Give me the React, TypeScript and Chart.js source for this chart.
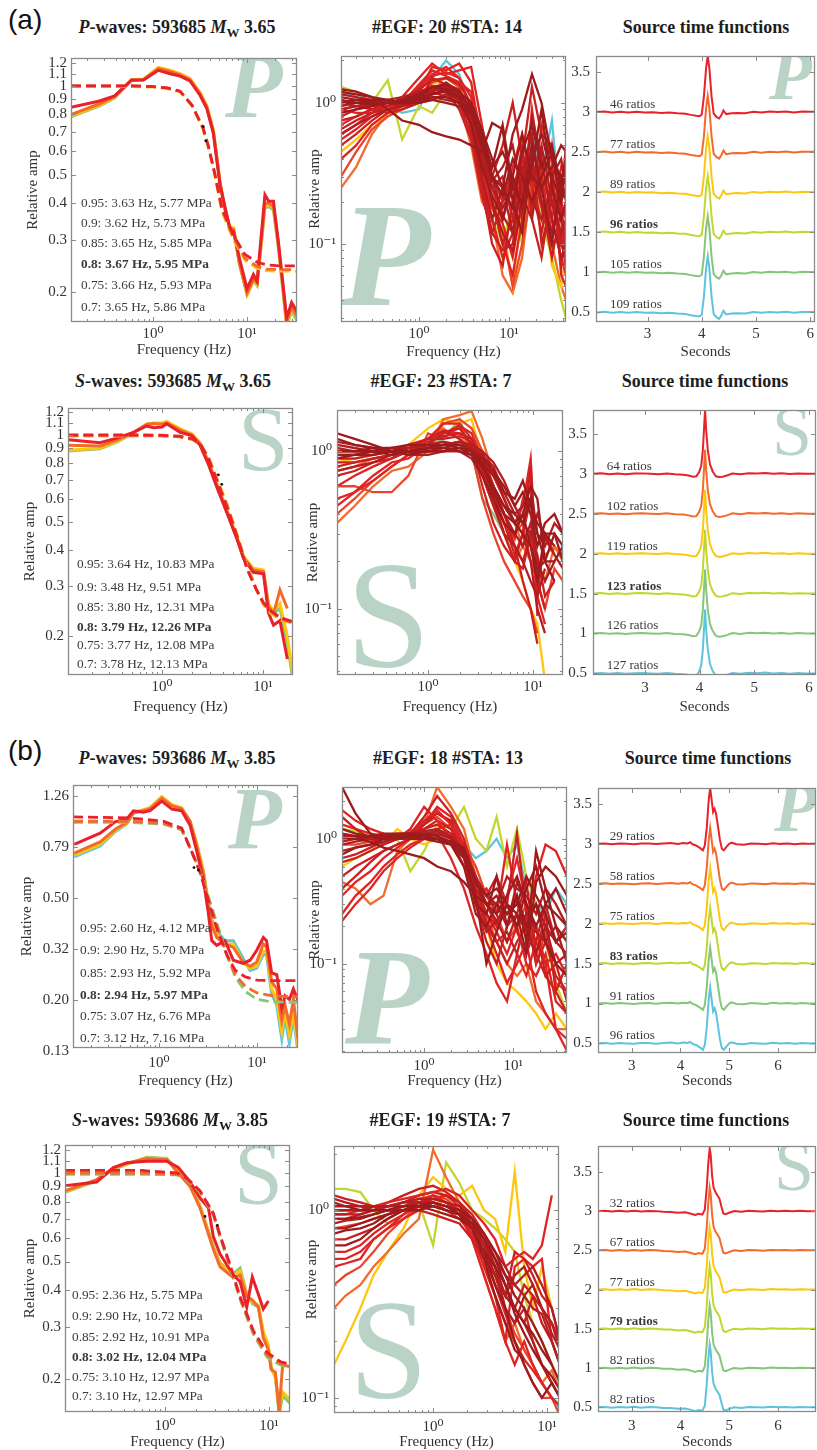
import React, { useEffect, useRef } from 'react';
import { Chart, registerables } from 'chart.js';
Chart.register(...registerables);

const SERIF = '"Liberation Serif", "DejaVu Serif", "Times New Roman", serif';
const SANS = '"Liberation Sans", Arial, sans-serif';
Chart.defaults.font.family = SERIF;
const INK = '#333333';
const BOX = '#8a8a8a';
const WATER = '#b9d4c7';
const PADT = 3;

const C = {
  cyan: '#5ec4dd', green: '#86c67a', ygreen: '#c3d62f', yellow: '#fcc70e', orange: '#f36b2c', red: '#e8212b',
  r1: '#9e1b1d', r2: '#b41e20', r3: '#cb2022', r4: '#df2424', r5: '#e9452a',
};

// ---------- tick labels ----------
const logXTicks = [1, 10];
const logXLabels = ['10⁰', '10¹'];
const logMinor = [0.02, 0.03, 0.04, 0.05, 0.06, 0.07, 0.08, 0.09, 0.2, 0.3, 0.4, 0.5, 0.6, 0.7, 0.8, 0.9, 2, 3, 4, 5, 6, 7, 8, 9, 20, 30, 40];
const ampTicks = [0.2, 0.3, 0.4, 0.5, 0.6, 0.7, 0.8, 0.9, 1, 1.1, 1.2];
const ampLabels = ['0.2', '0.3', '0.4', '0.5', '0.6', '0.7', '0.8', '0.9', '1', '1.1', '1.2'];
const ampTicksB = [0.1259, 0.1995, 0.3162, 0.5012, 0.7943, 1.2589];
const ampLabelsB = ['0.13', '0.20', '0.32', '0.50', '0.79', '1.26'];
const egfYTicks = [0.1, 1];
const egfYLabels = ['10⁻¹', '10⁰'];
const stfYTicks = [0.5, 1, 1.5, 2, 2.5, 3, 3.5];
const stfYLabels = ['0.5', '1', '1.5', '2', '2.5', '3', '3.5'];
const secTicks = [3, 4, 5, 6];
const secLabels = ['3', '4', '5', '6'];

// ---------- (a) P-wave spectral ratio fit ----------
const pA_freq = [0.134, 0.27, 0.39, 0.59, 0.79, 1.14, 1.52, 1.94, 2.47, 3.16, 3.72, 4.38, 5.16, 5.83, 6.6, 7.2, 8.3, 10.0, 11.7, 12.8, 15.5, 17.0, 19.1, 21.6, 26.4, 29.8, 34];
const pA_green = [0.785, 0.855, 0.91, 1.045, 1.05, 1.15, 1.125, 1.095, 1.055, 0.945, 0.855, 0.705, 0.468, 0.378, 0.328, 0.328, 0.248, 0.197, 0.218, 0.21, 0.385, 0.39, 0.38, 0.28, 0.153, 0.172, 0.16];
const pA_yellow = [0.79, 0.86, 0.915, 1.05, 1.055, 1.155, 1.13, 1.10, 1.06, 0.95, 0.86, 0.71, 0.47, 0.38, 0.33, 0.33, 0.25, 0.195, 0.218, 0.212, 0.39, 0.395, 0.385, 0.285, 0.155, 0.175, 0.163];
const pA_orange = [0.80, 0.87, 0.92, 1.05, 1.05, 1.145, 1.12, 1.09, 1.05, 0.94, 0.85, 0.70, 0.47, 0.385, 0.33, 0.325, 0.25, 0.198, 0.22, 0.215, 0.40, 0.40, 0.39, 0.29, 0.158, 0.178, 0.165];
const pA_red = [0.847, 0.889, 0.925, 1.046, 1.048, 1.13, 1.10, 1.08, 1.04, 0.93, 0.84, 0.69, 0.46, 0.387, 0.324, 0.32, 0.26, 0.205, 0.229, 0.217, 0.427, 0.406, 0.406, 0.293, 0.163, 0.184, 0.171];
const pA_dfreq = [0.134, 0.6, 1.0, 1.4, 1.94, 2.6, 3.4, 3.9, 4.5, 5.4, 7.2, 9.5, 12.8, 16, 22, 34];
const pA_dYellow = [0.995, 0.995, 0.99, 0.98, 0.955, 0.855, 0.715, 0.615, 0.505, 0.375, 0.3, 0.256, 0.24, 0.236, 0.235, 0.235];
const pA_dOrange = [1.0, 1.0, 0.995, 0.985, 0.96, 0.86, 0.72, 0.62, 0.51, 0.38, 0.305, 0.26, 0.244, 0.239, 0.238, 0.238];
const pA_dRed = [1.0, 1.0, 0.995, 0.985, 0.96, 0.86, 0.72, 0.62, 0.51, 0.385, 0.31, 0.268, 0.252, 0.247, 0.245, 0.245];
const pA_dots = [{ x: 3.43, y: 0.727 }, { x: 3.63, y: 0.651 }];
const pA_notes = ['0.95: 3.63 Hz, 5.77 MPa', '0.9: 3.62 Hz, 5.73 MPa', '0.85: 3.65 Hz, 5.85 MPa', '0.8: 3.67 Hz, 5.95 MPa', '0.75: 3.66 Hz, 5.93 MPa', '0.7: 3.65 Hz, 5.86 MPa'];

// ---------- (a) S-wave spectral ratio fit ----------
const sA_freq = [0.118, 0.243, 0.356, 0.52, 0.706, 0.82, 1.0, 1.11, 1.51, 1.97, 2.38, 2.88, 3.48, 4.38, 5.5, 6.39, 8.0, 10.1, 11.3, 12.7, 14.7, 17.4, 19.8];
const sA_green = [0.88, 0.895, 0.945, 1.015, 1.085, 1.095, 1.095, 1.11, 1.045, 1.005, 0.935, 0.805, 0.675, 0.545, 0.44, 0.375, 0.34, 0.335, 0.255, 0.24, 0.25, 0.19, 0.14];
const sA_yellow = [0.885, 0.9, 0.95, 1.02, 1.09, 1.10, 1.10, 1.115, 1.05, 1.01, 0.94, 0.81, 0.68, 0.55, 0.445, 0.38, 0.345, 0.34, 0.26, 0.245, 0.26, 0.2, 0.146];
const sA_orange = [0.92, 0.915, 0.96, 1.02, 1.09, 1.095, 1.09, 1.10, 1.04, 1.0, 0.93, 0.8, 0.67, 0.545, 0.44, 0.375, 0.34, 0.335, 0.255, 0.24, 0.29, 0.25, null];
const sA_red = [0.962, 0.94, 0.975, 1.02, 1.074, 1.06, 1.065, 1.094, 1.02, 0.995, 0.92, 0.79, 0.66, 0.537, 0.437, 0.375, 0.334, 0.33, 0.242, 0.219, 0.227, 0.167, null];
const sA_dfreq = [0.118, 0.6, 1.0, 1.5, 2.0, 2.4, 2.9, 3.5, 4.4, 5.5, 7.0, 8.6, 10.1, 12, 15, 19.8];
const sA_dYellow = [0.99, 0.99, 0.99, 0.985, 0.965, 0.93, 0.835, 0.705, 0.575, 0.455, 0.35, 0.29, 0.258, 0.24, 0.228, 0.222];
const sA_dOrange = [0.995, 0.995, 0.993, 0.985, 0.965, 0.925, 0.83, 0.70, 0.57, 0.45, 0.345, 0.292, 0.26, 0.243, 0.23, 0.223];
const sA_dRed = [1.0, 1.0, 0.998, 0.99, 0.97, 0.93, 0.82, 0.69, 0.56, 0.445, 0.34, 0.29, 0.262, 0.245, 0.232, 0.225];
const sA_dots = [{ x: 3.61, y: 0.727 }, { x: 3.9, y: 0.674 }];
const sA_notes = ['0.95: 3.64 Hz, 10.83 MPa', '0.9: 3.48 Hz, 9.51 MPa', '0.85: 3.80 Hz, 12.31 MPa', '0.8: 3.79 Hz, 12.26 MPa', '0.75: 3.77 Hz, 12.08 MPa', '0.7: 3.78 Hz, 12.13 MPa'];

// ---------- (b) P-wave spectral ratio fit ----------
const pB_freq = [0.136, 0.25, 0.356, 0.468, 0.547, 0.69, 0.81, 1.065, 1.35, 1.70, 2.07, 2.42, 2.83, 3.17, 3.45, 3.88, 4.71, 5.73, 7.2, 8.5, 9.9, 11.6, 12.5, 14.1, 15.9, 17.9, 19.3, 21.4, 23.5, 26.2];
const pB_green = [0.725, 0.80, 0.91, 0.975, 1.075, 1.105, 1.125, 1.245, 1.155, 1.125, 0.995, 0.815, 0.635, 0.485, 0.41, 0.37, 0.34, 0.34, 0.29, 0.26, 0.265, 0.30, 0.30, 0.21, 0.19, 0.14, 0.17, 0.135, 0.17, 0.125];
const pB_yellow = [0.735, 0.81, 0.92, 0.98, 1.08, 1.11, 1.13, 1.25, 1.16, 1.13, 1.0, 0.82, 0.64, 0.48, 0.40, 0.36, 0.33, 0.33, 0.28, 0.265, 0.27, 0.31, 0.31, 0.22, 0.2, 0.15, 0.18, 0.145, 0.18, 0.13];
const pB_orange = [0.75, 0.83, 0.93, 0.99, 1.08, 1.1, 1.12, 1.23, 1.15, 1.12, 1.0, 0.8, 0.62, 0.47, 0.39, 0.35, 0.33, 0.32, 0.28, 0.27, 0.28, 0.33, 0.32, 0.235, 0.22, 0.165, 0.19, 0.16, 0.2, 0.14];
const pB_red = [0.811, 0.898, 0.994, 1.02, 1.099, 1.085, 1.10, 1.199, 1.116, 1.099, 0.965, 0.765, 0.589, 0.441, 0.34, 0.326, 0.34, 0.285, 0.277, 0.285, 0.311, 0.35, 0.34, 0.254, 0.25, 0.185, 0.207, 0.20, 0.22, 0.198];
const pB_dfreq = [0.132, 0.5, 1.1, 1.7, 2.15, 2.62, 3.17, 3.88, 4.9, 6.0, 7.6, 10, 14, 20, 26.2];
const pB_dYellow = [0.99, 0.99, 0.975, 0.925, 0.76, 0.64, 0.51, 0.40, 0.30, 0.245, 0.215, 0.2, 0.196, 0.195, 0.195];
const pB_dOrange = [1.0, 1.0, 0.98, 0.93, 0.76, 0.635, 0.5, 0.39, 0.3, 0.25, 0.225, 0.212, 0.207, 0.205, 0.205];
const pB_dRed = [1.04, 1.03, 1.0, 0.94, 0.76, 0.63, 0.49, 0.38, 0.30, 0.26, 0.245, 0.238, 0.237, 0.237, 0.237];
const pB_dots = [{ x: 2.27, y: 0.658 }, { x: 2.52, y: 0.643 }];
const pB_notes = ['0.95: 2.60 Hz, 4.12 MPa', '0.9: 2.90 Hz, 5.70 MPa', '0.85: 2.93 Hz, 5.92 MPa', '0.8: 2.94 Hz, 5.97 MPa', '0.75: 3.07 Hz, 6.76 MPa', '0.7: 3.12 Hz, 7.16 MPa'];

// ---------- (b) S-wave spectral ratio fit ----------
const sB_freq = [0.109, 0.22, 0.318, 0.43, 0.667, 1.04, 1.34, 1.74, 2.17, 2.61, 2.91, 3.38, 4.54, 5.26, 6.1, 6.9, 7.9, 8.8, 9.85, 10.5, 11.5, 12.5, 13.5, 15.9];
const sB_green = [0.86, 0.94, 1.03, 1.07, 1.13, 1.12, 1.015, 0.915, 0.775, 0.635, 0.565, 0.495, 0.455, 0.475, 0.39, 0.36, 0.35, 0.285, 0.255, 0.215, 0.205, 0.15, 0.175, 0.165];
const sB_yellow = [0.865, 0.945, 1.035, 1.075, 1.125, 1.115, 1.01, 0.91, 0.77, 0.63, 0.56, 0.49, 0.45, 0.465, 0.385, 0.365, 0.355, 0.29, 0.26, 0.22, 0.2, 0.16, 0.18, 0.17];
const sB_orange = [0.87, 0.95, 1.04, 1.08, 1.12, 1.11, 1.0, 0.9, 0.76, 0.62, 0.55, 0.48, 0.44, 0.45, 0.38, 0.37, 0.35, 0.275, 0.25, 0.215, 0.21, 0.155, 0.222, 0.22];
const sB_red = [0.905, 0.932, 1.044, 1.084, 1.097, 1.097, 1.044, 0.932, 0.822, 0.762, 0.608, 0.53, 0.45, 0.427, 0.35, 0.443, 0.386, 0.345, 0.367, null, null, null, null, null];
const sB_dfreq = [0.109, 0.6, 1.3, 1.62, 2.17, 2.91, 3.38, 4.2, 5.26, 7.1, 9.6, 13, 15.9];
const sB_dYellow = [0.99, 0.99, 0.985, 0.95, 0.86, 0.72, 0.605, 0.48, 0.372, 0.282, 0.236, 0.222, 0.219];
const sB_dOrange = [1.0, 1.0, 0.99, 0.955, 0.865, 0.725, 0.61, 0.485, 0.376, 0.286, 0.24, 0.225, 0.222];
const sB_dRed = [1.02, 1.02, 1.0, 0.96, 0.87, 0.73, 0.615, 0.49, 0.38, 0.29, 0.245, 0.228, 0.224];
const sB_dots = [{ x: 2.42, y: 0.712 }, { x: 3.18, y: 0.664 }];
const sB_notes = ['0.95: 2.36 Hz, 5.75 MPa', '0.9: 2.90 Hz, 10.72 MPa', '0.85: 2.92 Hz, 10.91 MPa', '0.8: 3.02 Hz, 12.04 MPa', '0.75: 3.10 Hz, 12.97 MPa', '0.7: 3.10 Hz, 12.97 MPa'];

// ---------- individual EGF spectral ratios ----------
const egfPA_freq = [0.136, 0.2, 0.3, 0.45, 0.65, 1.0, 1.4, 2.0, 2.8, 3.8, 5.0, 6.5, 8.5, 11, 14, 18, 23, 30, 38, 43];
const egfPA_lines = [
  [1.2, 1.1, 1.0, 0.95, 0.85, 0.9, 1.5, 2.0, 1.6, 0.9, 0.4, 0.3, 0.15, 0.3, 0.2, 0.6, 0.3, 0.75, 0.15, 0.1],
  [1.3, 1.2, 1.0, 1.45, 0.55, 0.95, 0.85, 1.2, 1.0, 0.6, 0.3, 0.15, 0.1, 0.2, 0.1, 0.3, 0.15, 0.08, 0.04, 0.03],
  [0.25, 0.35, 0.6, 0.85, 1.0, 1.05, 1.5, 1.3, 1.0, 0.5, 0.2, 0.15, 0.06, 0.045, 0.08, 0.3, 0.2, 0.1, 0.05, 0.04],
  [0.45, 0.55, 0.7, 0.8, 0.95, 1.1, 1.35, 1.5, 1.3, 0.8, 0.35, 0.2, 0.14, 0.05, 0.18, 0.22, 0.35, 0.07, 0.05, 0.09],
  [0.3, 0.45, 0.65, 0.8, 0.9, 1.0, 1.4, 1.5, 1.3, 0.75, 0.3, 0.18, 0.12, 0.05, 0.1, 0.25, 0.15, 0.5, 0.15, 0.06],
  [0.4, 0.5, 0.7, 0.85, 0.95, 1.2, 1.8, 1.7, 1.9, 1.4, 0.5, 0.2, 0.1, 0.06, 0.15, 0.9, 0.3, 0.12, 0.2, 0.15],
  [0.6, 0.7, 0.85, 0.95, 1.0, 1.3, 1.6, 1.8, 1.5, 0.9, 0.3, 0.15, 0.08, 0.12, 0.35, 0.2, 0.7, 0.4, 0.06, 0.05],
  [0.5, 0.6, 0.75, 0.9, 1.0, 1.15, 1.3, 1.35, 1.1, 0.7, 0.4, 0.25, 0.3, 0.15, 0.45, 0.25, 0.12, 0.3, 0.07, 0.12],
  [0.7, 0.8, 0.9, 0.95, 1.1, 1.5, 1.9, 1.6, 1.7, 1.8, 0.7, 0.3, 0.2, 0.35, 0.6, 0.25, 0.4, 0.15, 0.35, 0.3],
  [0.55, 0.65, 0.8, 0.9, 1.0, 1.2, 1.55, 1.65, 1.5, 1.1, 0.35, 0.18, 0.14, 0.08, 0.2, 0.5, 0.25, 0.15, 0.08, 0.06],
  [0.9, 0.85, 0.85, 0.9, 1.0, 1.35, 1.7, 1.55, 1.4, 1.2, 0.6, 0.25, 0.15, 0.25, 0.4, 0.18, 0.3, 0.2, 0.1, 0.12],
  [0.65, 0.75, 0.85, 0.95, 1.05, 1.25, 1.45, 1.5, 1.35, 1.0, 0.45, 0.2, 0.1, 0.15, 0.25, 0.35, 0.18, 0.1, 0.12, 0.07],
  [0.9, 0.95, 0.95, 1.0, 1.0, 1.1, 1.2, 1.3, 1.15, 0.8, 0.45, 0.3, 0.5, 1.0, 0.4, 1.3, 0.6, 0.5, 0.15, 0.1],
  [1.0, 0.95, 0.9, 0.85, 0.9, 1.0, 1.5, 1.35, 1.25, 0.65, 0.28, 0.12, 0.09, 0.1, 0.28, 0.45, 0.1, 0.2, 0.1, 0.08],
  [0.8, 0.9, 0.95, 1.0, 1.05, 1.1, 1.2, 1.1, 1.0, 0.6, 0.25, 0.1, 0.07, 0.2, 0.5, 0.15, 0.08, 0.25, 0.1, 0.08],
  [0.75, 0.8, 0.9, 1.0, 1.05, 1.1, 1.3, 1.2, 0.9, 0.55, 0.22, 0.12, 0.2, 0.3, 0.15, 0.4, 0.2, 0.08, 0.18, 0.1],
  [1.0, 1.0, 1.02, 1.0, 0.98, 1.05, 1.2, 1.4, 1.2, 0.8, 0.4, 0.2, 0.12, 0.09, 0.2, 0.8, 0.4, 0.15, 0.08, 0.1],
  [0.9, 0.95, 1.0, 1.05, 1.1, 1.2, 1.3, 1.2, 1.05, 0.8, 0.5, 0.3, 0.16, 0.12, 0.3, 0.6, 0.2, 0.12, 0.25, 0.4],
  [0.95, 1.0, 1.0, 1.0, 1.05, 1.1, 1.25, 1.3, 1.15, 0.85, 0.45, 0.25, 0.18, 0.25, 0.35, 0.28, 0.5, 0.2, 0.12, 0.15],
  [1.15, 1.1, 1.05, 1.0, 0.95, 1.0, 1.05, 1.15, 1.05, 0.75, 0.4, 0.28, 0.35, 0.5, 0.22, 0.15, 0.45, 0.3, 0.4, 0.25],
  [0.6, 0.7, 0.8, 0.9, 0.95, 1.05, 1.1, 1.05, 1.0, 0.7, 0.3, 0.15, 0.25, 0.12, 0.3, 0.2, 0.15, 0.25, 0.15, 0.18],
  [1.1, 1.05, 1.0, 1.0, 1.0, 1.0, 1.1, 1.1, 1.0, 0.9, 0.6, 0.35, 0.7, 0.25, 0.2, 0.35, 0.9, 0.25, 0.15, 0.2],
  [1.05, 1.0, 0.98, 1.0, 1.02, 1.08, 1.15, 1.2, 1.1, 0.95, 0.55, 0.3, 0.22, 0.4, 0.3, 0.2, 0.3, 0.45, 0.2, 0.25],
  [0.85, 0.9, 0.95, 1.0, 1.0, 1.05, 1.15, 1.25, 1.2, 1.0, 0.65, 0.4, 0.25, 0.18, 0.45, 0.7, 0.35, 0.5, 0.25, 0.3],
  [1.0, 1.0, 1.0, 1.0, 1.05, 1.15, 1.3, 1.35, 1.2, 0.9, 0.5, 0.3, 0.25, 0.6, 0.9, 1.6, 1.0, 0.4, 0.3, 0.2],
  [1.0, 1.05, 1.05, 1.05, 1.0, 1.0, 1.05, 1.0, 0.95, 0.85, 0.5, 0.35, 0.45, 0.3, 0.6, 0.3, 0.25, 0.35, 0.5, 0.45],
  [1.2, 1.15, 1.1, 1.05, 1.0, 1.1, 1.3, 1.25, 1.1, 0.7, 0.35, 0.22, 0.15, 0.3, 0.18, 0.5, 0.25, 0.1, 0.3, 0.35],
  [1.25, 1.2, 1.1, 0.9, 0.75, 0.7, 0.62, 0.58, 0.55, 0.5, 0.45, 0.72, 0.65, 0.2, 0.12, 0.4, 0.6, 0.3, 0.2, 0.5],
];
const egfPA_colors = [C.cyan, C.ygreen, C.orange, C.yellow, C.r5, C.r4, C.r4, C.r3, C.r4, C.r4, C.r4, C.r3, C.r3, C.r3, C.r3, C.r3, C.r2, C.r2, C.r2, C.r2, C.r2, C.r1, C.r1, C.r1, C.r1, C.r1, C.r1, C.r1];

const egfSA_freq = [0.136, 0.2, 0.3, 0.45, 0.65, 1.0, 1.4, 2.0, 2.6, 3.3, 4.2, 5.3, 6.7, 8.0, 9.5, 11, 13, 16, 19.3];
const egfSA_lines = [
  [0.9, 0.9, 0.95, 1.0, 1.0, 1.1, 1.2, 1.6, 1.0, 0.5, 0.4, 0.3, null, null, null, null, null, null, null],
  [0.85, 0.9, 0.95, 1.0, 1.1, 1.4, 1.6, 1.5, 1.6, 0.9, 0.5, 0.3, 0.2, 0.15, 0.1, 0.08, 0.035, null, null],
  [0.35, 0.45, 0.6, 0.75, 0.8, 1.0, 1.6, 1.7, 1.8, 1.2, 0.7, 0.5, 0.35, 0.25, 0.2, 0.18, 0.22, 0.25, 0.2],
  [0.6, 0.6, 0.55, 0.55, 0.7, 1.3, 1.2, 1.5, 1.0, 0.5, 0.3, 0.2, 0.15, 0.12, 0.1, 0.07, null, null, null],
  [0.75, 0.8, 0.9, 0.95, 1.0, 1.2, 1.4, 1.2, 1.1, 0.7, 0.45, 0.3, 0.2, 0.25, 0.3, 0.2, 0.15, 0.25, 0.22],
  [0.4, 0.5, 0.65, 0.8, 0.95, 1.1, 1.5, 1.6, 1.4, 1.0, 0.6, 0.4, 0.3, 0.35, 0.2, 0.15, 0.1, 0.18, 0.15],
  [0.6, 0.7, 0.8, 0.9, 1.05, 1.2, 1.5, 1.5, 1.2, 0.8, 0.55, 0.4, 0.28, 0.5, 0.7, 0.09, null, null, null],
  [0.5, 0.55, 0.7, 0.85, 0.9, 1.1, 1.35, 1.3, 1.2, 0.95, 0.7, 0.5, 0.35, 0.45, 0.9, 0.15, null, null, null],
  [0.45, 0.55, 0.65, 0.8, 0.95, 1.1, 1.3, 1.45, 1.3, 0.9, 0.55, 0.35, 0.25, 0.2, 0.3, 0.12, 0.08, null, null],
  [0.8, 0.85, 0.9, 0.95, 1.0, 1.1, 1.3, 1.4, 1.1, 0.6, 0.35, 0.25, 0.2, 0.3, 0.8, 0.12, 0.3, 0.22, null],
  [0.9, 0.9, 0.95, 1.0, 1.1, 1.2, 1.2, 1.25, 1.15, 0.9, 0.6, 0.4, 0.25, 0.15, 0.1, 0.06, null, null, null],
  [0.7, 0.75, 0.85, 0.9, 1.0, 1.15, 1.25, 1.3, 1.2, 0.85, 0.5, 0.35, 0.22, 0.3, 0.5, 0.15, 0.1, null, null],
  [0.85, 0.85, 0.9, 0.95, 1.05, 1.2, 1.35, 1.2, 1.0, 0.75, 0.5, 0.3, 0.2, 0.18, 0.3, 0.22, 0.12, 0.15, null],
  [1.1, 1.05, 1.0, 1.0, 0.95, 0.95, 1.0, 1.0, 0.9, 0.7, 0.45, 0.3, 0.25, 0.2, 0.15, 0.12, 0.18, null, null],
  [0.95, 0.95, 1.0, 1.05, 1.05, 1.1, 1.15, 1.1, 1.05, 0.95, 0.75, 0.5, 0.35, 0.3, 0.2, 0.1, 0.07, null, null],
  [1.05, 1.0, 1.0, 1.0, 1.0, 1.05, 1.1, 1.15, 1.05, 0.85, 0.6, 0.4, 0.3, 0.25, 0.35, 0.2, 0.15, 0.2, null],
  [1.15, 1.1, 1.05, 1.0, 1.0, 1.0, 1.05, 1.1, 1.05, 0.95, 0.8, 0.55, 0.4, 0.45, 0.6, 0.3, 0.25, 0.35, 0.3],
  [0.75, 0.8, 0.85, 0.95, 1.0, 1.05, 1.1, 1.15, 1.1, 1.0, 0.85, 0.65, 0.45, 0.35, 0.3, 0.4, 0.28, 0.22, 0.18],
  [1.0, 1.0, 1.0, 0.95, 1.0, 1.0, 1.05, 1.0, 0.95, 0.7, 0.5, 0.35, 0.3, 0.4, 0.25, 0.15, 0.3, 0.25, null],
  [0.9, 0.95, 1.0, 1.05, 1.0, 1.0, 1.0, 1.05, 1.0, 0.9, 0.75, 0.6, 0.45, 0.55, 0.4, 0.25, 0.35, 0.4, 0.3],
  [1.0, 1.0, 1.05, 1.05, 1.1, 1.1, 1.1, 1.05, 0.95, 0.8, 0.55, 0.4, 0.35, 0.3, 0.25, 0.18, 0.2, 0.3, 0.25],
  [0.95, 0.95, 0.95, 1.0, 1.0, 1.05, 1.05, 1.0, 0.95, 0.8, 0.6, 0.45, 0.35, 0.4, 0.6, 0.5, 0.2, 0.15, null],
  [1.2, 1.1, 1.05, 1.0, 1.0, 1.05, 1.1, 1.1, 1.0, 0.8, 0.6, 0.45, 0.4, 0.35, 0.5, 0.3, 0.2, 0.2, 0.25],
  [1.3, 1.2, 1.1, 1.0, 0.95, 1.0, 1.0, 1.05, 1.0, 0.85, 0.7, 0.55, 0.5, 0.65, 0.45, 0.35, 0.3, 0.3, 0.2],
];
const egfSA_colors = [C.green, C.yellow, C.orange, C.r5, C.orange, C.r5, C.r4, C.r4, C.r4, C.r3, C.r3, C.r3, C.r3, C.r2, C.r2, C.r2, C.r2, C.r2, C.r1, C.r1, C.r1, C.r1, C.r1, C.r1];

const egfPB_freq = [0.12, 0.17, 0.25, 0.35, 0.5, 0.7, 1.0, 1.4, 2.0, 2.8, 3.8, 5.0, 6.5, 8.5, 11, 14, 18, 23, 30, 40];
const egfPB_lines = [
  [1.1, 1.05, 1.0, 1.0, 1.05, 1.0, 1.1, 1.2, 1.0, 0.9, 0.7, 0.8, 1.0, 0.7, 0.9, 0.4, 0.3, 0.25, 0.4, 0.3],
  [1.2, 1.15, 1.1, 1.05, 1.0, 0.55, 0.8, 1.3, 1.2, 1.8, 1.0, 0.8, 1.5, 0.6, 1.2, 0.5, 0.3, 0.15, 0.07, 0.04],
  [0.6, 0.7, 0.8, 0.9, 1.2, 1.0, 0.9, 1.0, 0.9, 0.6, 0.3, 0.2, 0.1, 0.07, 0.06, 0.05, 0.04, 0.03, 0.04, 0.03],
  [0.45, 0.4, 0.3, 0.35, 0.8, 1.0, 1.3, 2.6, 1.8, 1.2, 0.5, 0.25, 0.15, 0.1, 0.08, 0.1, 0.05, 0.04, 0.03, 0.03],
  [0.9, 0.9, 0.95, 1.0, 1.0, 1.15, 1.3, 1.5, 1.2, 0.9, 0.6, 0.35, 0.25, 0.15, 0.2, 0.3, 0.1, 0.18, 0.07, 0.06],
  [0.25, 0.35, 0.45, 0.6, 0.75, 0.9, 1.0, 1.2, 1.3, 0.8, 0.35, 0.2, 0.12, 0.07, 0.1, 0.15, 0.06, 0.04, 0.03, 0.025],
  [0.22, 0.3, 0.4, 0.55, 0.7, 0.85, 1.0, 1.1, 0.7, 0.4, 0.2, 0.12, 0.07, 0.05, 0.12, 0.08, 0.15, 0.1, 0.03, 0.02],
  [0.35, 0.45, 0.55, 0.7, 0.85, 1.0, 1.3, 1.8, 1.5, 0.9, 0.4, 0.25, 0.18, 0.12, 0.2, 0.1, 0.08, 0.12, 0.05, 0.04],
  [0.4, 0.5, 0.65, 0.8, 0.9, 1.0, 1.4, 1.6, 1.4, 0.7, 0.3, 0.15, 0.1, 0.2, 0.25, 0.45, 0.12, 0.25, 0.06, 0.1],
  [0.5, 0.6, 0.7, 0.8, 0.9, 1.0, 1.2, 1.4, 1.2, 0.75, 0.35, 0.2, 0.15, 0.1, 0.15, 0.2, 0.12, 0.08, 0.06, 0.04],
  [0.7, 0.75, 0.85, 0.95, 1.0, 1.1, 1.2, 1.3, 1.1, 0.8, 0.4, 0.25, 0.2, 0.3, 0.18, 0.12, 0.2, 0.08, 0.1, 0.05],
  [0.65, 0.7, 0.8, 0.9, 1.0, 1.1, 1.3, 1.6, 1.35, 0.85, 0.4, 0.22, 0.15, 0.18, 0.12, 0.25, 0.1, 0.15, 0.08, 0.06],
  [1.7, 1.4, 1.2, 1.1, 1.0, 1.2, 1.8, 1.4, 1.0, 0.6, 0.35, 0.4, 0.25, 0.9, 0.3, 0.2, 0.5, 0.9, 0.8, 0.5],
  [1.3, 1.2, 1.1, 1.05, 1.0, 1.1, 1.4, 1.7, 1.3, 0.85, 0.5, 0.3, 0.2, 0.35, 0.7, 0.3, 0.2, 0.1, 0.12, 0.08],
  [1.5, 1.2, 1.0, 0.9, 1.0, 1.1, 1.5, 2.2, 1.6, 1.0, 0.45, 0.35, 0.5, 0.3, 1.1, 0.25, 0.15, 0.3, 0.15, 0.2],
  [0.95, 1.0, 1.0, 1.05, 1.1, 1.1, 1.15, 1.2, 1.05, 0.8, 0.45, 0.3, 0.22, 0.3, 0.2, 0.25, 0.3, 0.2, 0.15, 0.12],
  [0.8, 0.85, 0.9, 0.95, 1.0, 1.05, 1.1, 1.15, 1.0, 0.8, 0.5, 0.35, 0.3, 0.2, 0.45, 0.3, 0.18, 0.15, 0.2, 0.1],
  [0.9, 0.95, 1.0, 1.0, 1.0, 1.0, 1.05, 1.1, 1.0, 0.75, 0.3, 0.18, 0.22, 0.15, 0.25, 0.18, 0.12, 0.2, 0.1, 0.12],
  [1.05, 1.05, 1.0, 1.0, 1.05, 1.05, 1.0, 1.0, 0.95, 0.75, 0.4, 0.3, 0.3, 0.5, 0.4, 0.35, 0.25, 0.4, 0.3, 0.2],
  [1.1, 1.05, 1.05, 1.05, 1.05, 1.05, 1.0, 1.0, 0.9, 0.7, 0.35, 0.3, 0.25, 0.35, 0.5, 0.3, 0.2, 0.3, 0.25, 0.2],
  [1.2, 1.1, 1.05, 1.0, 1.0, 1.05, 1.05, 1.0, 0.95, 0.85, 0.45, 0.3, 0.35, 0.25, 0.3, 0.5, 0.35, 0.25, 0.15, 0.18],
  [0.75, 0.85, 0.9, 1.0, 1.05, 1.1, 1.1, 1.05, 0.95, 0.75, 0.45, 0.35, 0.4, 0.3, 0.2, 0.4, 0.6, 0.3, 0.4, 0.25],
  [1.0, 1.0, 1.05, 1.1, 1.1, 1.1, 1.05, 1.0, 0.95, 0.8, 0.3, 0.25, 0.5, 0.2, 0.35, 0.15, 0.8, 0.4, 0.2, 0.15],
  [2.6, 1.6, 1.1, 1.0, 1.05, 1.0, 1.0, 0.95, 0.9, 0.6, 0.25, 0.2, 0.3, 0.25, 0.35, 0.2, 0.3, 0.15, 0.1, 0.08],
  [1.0, 1.0, 0.95, 0.85, 0.8, 0.75, 0.7, 0.6, 0.55, 0.45, 0.35, 0.1, 0.18, 0.3, 0.25, 0.12, 0.45, 0.6, 0.5, 0.35],
];
const egfPB_colors = [C.cyan, C.ygreen, C.yellow, C.orange, C.r5, C.r4, C.r4, C.r4, C.r3, C.r3, C.r3, C.r3, C.r4, C.r4, C.r3, C.r2, C.r2, C.r2, C.r2, C.r1, C.r1, C.r1, C.r1, C.r1, C.r1];

const egfSB_freq = [0.135, 0.17, 0.23, 0.3, 0.4, 0.55, 0.75, 1.0, 1.3, 1.7, 2.2, 2.8, 3.5, 4.3, 5.2, 6.3, 7.5, 9.0, 11, 13];
const egfSB_lines = [
  [1.3, 1.3, 1.25, 1.0, 0.85, 0.95, 1.1, 0.65, 1.8, 1.4, 1.0, 0.9, 0.8, 0.7, 0.6, 0.35, 0.25, 0.2, 0.15, 0.12],
  [0.15, 0.2, 0.3, 0.45, 0.6, 0.8, 1.2, 1.5, 1.3, 1.2, 1.35, 1.0, 0.9, 0.6, 1.6, 0.5, 0.3, 0.5, 0.3, null],
  [0.3, 0.35, 0.4, 0.5, 0.6, 0.75, 0.9, 2.1, 1.5, 1.1, 0.7, 0.45, 0.3, 0.2, 0.25, 0.18, 0.15, 0.12, 0.14, 0.11],
  [0.4, 0.45, 0.5, 0.6, 0.75, 0.9, 1.05, 1.2, 1.15, 1.0, 0.75, 0.5, 0.35, 0.25, 0.2, 0.15, 0.12, 0.1, 0.1, 0.09],
  [0.8, 0.82, 0.85, 0.9, 0.95, 1.05, 1.15, 1.2, 1.1, 1.0, 0.8, 0.55, 0.4, 0.3, 0.22, 0.18, 0.15, 0.12, 0.1, 0.08],
  [0.5, 0.52, 0.55, 0.7, 0.8, 0.9, 1.0, 1.1, 1.0, 0.9, 0.75, 0.5, 0.35, 0.2, 0.15, 0.2, 0.15, 0.12, 0.1, 0.09],
  [0.55, 0.55, 0.6, 0.7, 0.8, 0.95, 1.05, 1.15, 1.2, 1.05, 0.85, 0.6, 0.4, 0.28, 0.2, 0.16, 0.14, 0.12, 0.1, 0.09],
  [0.6, 0.6, 0.65, 0.75, 0.85, 0.95, 1.1, 1.2, 1.1, 0.95, 0.7, 0.45, 0.3, 0.2, 0.5, 0.55, 0.5, 0.55, 0.2, 0.15],
  [0.9, 0.9, 0.95, 1.0, 1.1, 1.2, 1.3, 1.35, 1.25, 1.1, 0.9, 0.7, 0.5, 0.35, 0.6, 0.55, 0.45, 0.35, 0.3, 0.2],
  [0.7, 0.7, 0.75, 0.8, 0.9, 1.0, 1.1, 1.15, 1.1, 1.0, 0.8, 0.6, 0.45, 0.3, 0.25, 0.3, 0.2, 0.15, 0.12, 0.1],
  [1.0, 1.0, 1.0, 1.0, 1.05, 1.1, 1.2, 1.25, 1.2, 1.1, 0.95, 0.75, 0.55, 0.4, 0.3, 0.4, 0.35, 0.25, 0.2, 0.15],
  [0.95, 0.95, 1.0, 1.05, 1.1, 1.15, 1.2, 1.25, 1.3, 1.2, 1.0, 0.85, 0.7, 0.5, 0.55, 0.6, 0.55, 0.65, 1.2, null],
  [1.2, 1.15, 1.1, 1.05, 1.0, 1.0, 1.0, 0.95, 0.9, 0.85, 0.7, 0.55, 0.45, 0.35, 0.3, 0.25, 0.35, 0.3, 0.25, 0.2],
  [0.95, 0.95, 0.95, 1.0, 1.05, 1.1, 1.15, 1.15, 1.1, 1.05, 0.9, 0.7, 0.5, 0.35, 0.3, 0.25, 0.2, 0.15, 0.12, 0.1],
  [1.05, 1.05, 1.05, 1.05, 1.05, 1.05, 1.1, 1.05, 1.0, 0.95, 0.85, 0.75, 0.6, 0.5, 0.4, 0.45, 0.5, 0.4, 0.3, 0.2],
  [1.15, 1.1, 1.05, 1.0, 1.0, 1.0, 1.05, 1.1, 1.05, 1.0, 0.85, 0.65, 0.45, 0.35, 0.45, 0.5, 0.4, 0.3, 0.22, 0.18],
  [0.85, 0.88, 0.9, 0.95, 1.0, 1.05, 1.1, 1.1, 1.05, 1.0, 0.85, 0.65, 0.5, 0.3, 0.25, 0.35, 0.4, 0.3, 0.25, 0.18],
  [1.0, 1.0, 1.0, 1.05, 1.05, 1.1, 1.1, 1.05, 1.0, 0.95, 0.85, 0.7, 0.55, 0.45, 0.4, 0.35, 0.3, 0.28, 0.2, 0.15],
  [0.9, 0.9, 0.92, 0.95, 1.0, 1.05, 1.05, 1.1, 1.05, 1.0, 0.9, 0.75, 0.6, 0.45, 0.35, 0.3, 0.25, 0.2, 0.15, 0.12],
  [0.8, 0.8, 0.85, 0.9, 0.95, 1.0, 1.05, 1.05, 1.0, 0.95, 0.85, 0.7, 0.55, 0.4, 0.28, 0.22, 0.18, 0.15, 0.13, 0.11],
  [0.65, 0.65, 0.7, 0.8, 0.9, 1.0, 1.05, 1.1, 1.05, 0.95, 0.8, 0.6, 0.5, 0.4, 0.3, 0.25, 0.22, 0.18, 0.15, null],
  [0.75, 0.78, 0.8, 0.85, 0.95, 1.0, 1.0, 1.05, 1.0, 0.95, 0.8, 0.55, 0.35, 0.25, 0.18, 0.16, null, null, null, null],
  [1.1, 1.05, 1.0, 1.0, 1.0, 1.0, 1.05, 1.0, 0.95, 0.9, 0.8, 0.6, 0.4, 0.3, 0.2, 0.15, 0.12, 0.1, 0.12, 0.1],
];
const egfSB_colors = [C.ygreen, C.yellow, C.orange, C.r5, C.r5, C.r4, C.r4, C.r4, C.r3, C.r3, C.r3, C.r4, C.r3, C.r2, C.r2, C.r2, C.r2, C.r2, C.r1, C.r1, C.r1, C.r1, C.r1];

// ---------- source time functions ----------
const stfOffsets = [3, 2.5, 2, 1.5, 1, 0.5];
const stfColors = [C.red, C.orange, C.yellow, C.ygreen, C.green, C.cyan];
const stfPA_t = [2.05, 2.2, 2.35, 2.5, 2.65, 2.8, 2.95, 3.1, 3.25, 3.4, 3.55, 3.7, 3.8, 3.9, 3.96, 4.0, 4.04, 4.08, 4.11, 4.14, 4.18, 4.22, 4.27, 4.32, 4.36, 4.4, 4.45, 4.55, 4.65, 4.8, 4.95, 5.1, 5.25, 5.4, 5.55, 5.7, 5.85, 6.0, 6.09];
const stfPA_v = [0, 0.008, -0.004, 0.005, -0.006, 0.004, -0.005, -0.002, -0.012, -0.006, -0.015, -0.02, -0.035, -0.045, -0.05, -0.03, 0.2, 0.55, 0.70, 0.55, 0.2, -0.02, -0.06, -0.08, -0.04, 0.02, -0.025, -0.015, -0.01, -0.015, 0.004, -0.006, 0.006, 0.0, 0.008, -0.004, 0.006, 0.004, 0.005];
const stfPA_counts = ['46', '77', '89', '96', '105', '109'];
const stfSA_t = [2.05, 2.2, 2.35, 2.5, 2.65, 2.8, 2.95, 3.1, 3.25, 3.4, 3.55, 3.7, 3.8, 3.88, 3.94, 3.99, 4.03, 4.06, 4.08, 4.1, 4.12, 4.15, 4.19, 4.24, 4.3, 4.36, 4.42, 4.5, 4.6, 4.75, 4.9, 5.05, 5.2, 5.35, 5.5, 5.65, 5.8, 5.95, 6.13];
const stfSA_v = [0, 0.006, -0.004, 0.004, -0.005, 0.003, 0.006, 0.0, -0.004, 0.005, -0.005, -0.01, -0.02, -0.035, -0.03, 0.02, 0.1, 0.3, 0.55, 0.80, 0.55, 0.3, 0.12, 0.03, -0.03, -0.04, -0.035, -0.02, 0.005, -0.005, 0.008, 0.003, 0.01, 0.0, 0.006, -0.003, 0.005, 0.0, 0.0];
const stfSA_counts = ['64', '102', '119', '123', '126', '127'];
const stfPB_t = [2.31, 2.45, 2.6, 2.75, 2.9, 3.05, 3.2, 3.35, 3.5, 3.65, 3.8, 3.95, 4.05, 4.15, 4.2, 4.25, 4.32, 4.4, 4.46, 4.5, 4.54, 4.58, 4.61, 4.64, 4.67, 4.7, 4.73, 4.77, 4.81, 4.85, 4.89, 4.94, 5.0, 5.05, 5.15, 5.3, 5.45, 5.6, 5.75, 5.9, 6.05, 6.2, 6.35, 6.5, 6.65, 6.78];
const stfPB_v = [0, 0.006, -0.004, 0.005, 0.0, -0.005, 0.004, 0.006, -0.003, 0.005, 0.01, 0.0, 0.01, 0.005, 0.02, -0.005, -0.02, -0.05, -0.08, -0.02, 0.2, 0.55, 0.70, 0.55, 0.4, 0.44, 0.38, 0.22, 0.05, -0.06, -0.08, -0.04, 0.0, 0.015, -0.005, -0.01, 0.005, 0.0, -0.005, 0.008, 0.0, 0.005, -0.004, 0.006, 0.0, 0.0];
const stfPB_counts = ['29', '58', '75', '83', '91', '96'];
const stfSB_t = [2.31, 2.45, 2.6, 2.75, 2.9, 3.05, 3.2, 3.35, 3.5, 3.65, 3.8, 3.95, 4.1, 4.2, 4.3, 4.38, 4.45, 4.5, 4.54, 4.57, 4.6, 4.62, 4.65, 4.68, 4.72, 4.76, 4.8, 4.84, 4.88, 4.93, 5.0, 5.1, 5.25, 5.4, 5.55, 5.7, 5.85, 6.0, 6.15, 6.3, 6.45, 6.6, 6.78];
const stfSB_v = [0, 0.005, -0.005, 0.004, -0.004, 0.006, -0.006, 0.003, 0.0, -0.008, -0.01, -0.02, -0.015, -0.03, -0.05, -0.035, -0.045, 0.02, 0.3, 0.6, 0.80, 0.72, 0.45, 0.3, 0.24, 0.2, 0.16, 0.06, -0.03, -0.04, -0.02, 0.0, -0.008, 0.005, 0.0, -0.004, 0.006, 0.0, 0.004, -0.002, 0.005, 0.0, 0.0];
const stfSB_counts = ['32', '67', '77', '79', '82', '82'];

// ---------- dataset builders ----------
const xy = (xs: number[], ys: (number | null)[]) => xs.map((x, i) => ({ x, y: ys[i] }));
const stack = (sets: any[]) => sets.map((s, i) => ({ ...s, order: sets.length - i }));

function spectrum(freq: number[], solids: [any[], string][], dfreq: number[], dashed: [any[], string][], dots: any[]) {
  const s: any[] = [];
  solids.forEach(([v, c]) => s.push({ data: xy(freq, v), borderColor: c, borderWidth: 3, pointRadius: 0, clip: 0, spanGaps: false }));
  dashed.forEach(([v, c]) => s.push({ data: xy(dfreq, v), borderColor: c, borderWidth: 2.8, borderDash: [10, 5], pointRadius: 0, clip: 0 }));
  s.push({ data: dots, showLine: false, pointRadius: 1.4, pointBackgroundColor: '#111', pointBorderWidth: 0, clip: 0 });
  return stack(s);
}
function egf(freq: number[], lines: any[][], colors: string[]) {
  return stack(lines.map((v, i) => ({ data: xy(freq, v), borderColor: colors[i], borderWidth: 2.3, pointRadius: 0, clip: 0, spanGaps: false })));
}
function stf(t: number[], shape: number[]) {
  return stack(stfOffsets.map((o, i) => ({ data: t.map((x, j) => ({ x, y: o + shape[j] })), borderColor: stfColors[i], borderWidth: 2, pointRadius: 0, clip: 0 })));
}

// ---------- panels ----------
type Panel = any;
const LOGX = { v: logXTicks, l: logXLabels, minor: logMinor };
const SECX = { v: secTicks, l: secLabels, minor: [] };
const AMPY = { v: ampTicks, l: ampLabels, minor: [] };
const EGFY = { v: egfYTicks, l: egfYLabels, minor: logMinor };
const STFY = { v: stfYTicks, l: stfYLabels, minor: [] };

const PANELS: Panel[] = [
  { id: 'p1', plot: [71, 48, 297, 322], padL: 47, padB: 37, padR: 3, xPad: 3, yPad: 4, xType: 'logarithmic', yType: 'logarithmic', xMin: 0.134, xMax: 34, yMin: 0.158, yMax: 1.244, xT: LOGX, yT: AMPY, xTitle: 'Frequency (Hz)', yTitle: 'Relative amp',
    letter: { ch: 'P', italic: true, size: 94, x: 225, y: 117 },
    datasets: spectrum(pA_freq, [[pA_green, C.green], [pA_yellow, C.yellow], [pA_orange, C.orange], [pA_red, C.red]], pA_dfreq, [[pA_dYellow, C.yellow], [pA_dOrange, C.orange], [pA_dRed, C.red]], pA_dots) },
  { id: 'p2', plot: [341, 45, 566, 322], padL: 35, padB: 39, padR: 3, xPad: 3, yPad: 5, xType: 'logarithmic', yType: 'logarithmic', xMin: 0.136, xMax: 43, yMin: 0.028, yMax: 2.15, xT: LOGX, yT: EGFY, xTitle: 'Frequency (Hz)', yTitle: 'Relative amp',
    letter: { ch: 'P', italic: true, size: 148, x: 340, y: 305 },
    datasets: egf(egfPA_freq, egfPA_lines, egfPA_colors) },
  { id: 'p3', plot: [596, 44, 816, 322], padL: 30, padB: 39, padR: 1, xPad: 3, yPad: 6, xType: 'linear', yType: 'linear', xMin: 2.05, xMax: 6.09, yMin: 0.38, yMax: 3.7, xT: SECX, yT: STFY, xTitle: 'Seconds',
    letter: { ch: 'P', italic: true, size: 70, x: 769, y: 99 },
    stf: { t: 2.31, counts: stfPA_counts, bold: 3 },
    datasets: stf(stfPA_t, stfPA_v) },
  { id: 'p4', plot: [68, 398, 293, 675], padL: 47, padB: 41, padR: 3, xPad: 3, yPad: 4, xType: 'logarithmic', yType: 'logarithmic', xMin: 0.117, xMax: 19.8, yMin: 0.147, yMax: 1.24, xT: LOGX, yT: AMPY, xTitle: 'Frequency (Hz)', yTitle: 'Relative amp',
    letter: { ch: 'S', italic: false, size: 91, x: 238, y: 470 },
    datasets: spectrum(sA_freq, [[sA_green, C.green], [sA_yellow, C.yellow], [sA_orange, C.orange], [sA_red, C.red]], sA_dfreq, [[sA_dYellow, C.yellow], [sA_dOrange, C.orange], [sA_dRed, C.red]], sA_dots) },
  { id: 'p5', plot: [337, 399, 563, 675], padL: 33, padB: 41, padR: 3, xPad: 3, yPad: 5, xType: 'logarithmic', yType: 'logarithmic', xMin: 0.136, xMax: 19.3, yMin: 0.038, yMax: 1.83, xT: LOGX, yT: EGFY, xTitle: 'Frequency (Hz)', yTitle: 'Relative amp',
    letter: { ch: 'S', italic: false, size: 152, x: 346, y: 667 },
    datasets: egf(egfSA_freq, egfSA_lines, egfSA_colors) },
  { id: 'p6', plot: [593, 398, 816, 675], padL: 30, padB: 41, padR: 1, xPad: 4, yPad: 6, xType: 'linear', yType: 'linear', xMin: 2.05, xMax: 6.13, yMin: 0.48, yMax: 3.8, xT: SECX, yT: STFY, xTitle: 'Seconds',
    letter: { ch: 'S', italic: false, size: 72, x: 772, y: 455 },
    stf: { t: 2.3, counts: stfSA_counts, bold: 3 },
    datasets: stf(stfSA_t, stfSA_v) },
  { id: 'p7', plot: [73, 775, 298, 1048], padL: 55, padB: 42, padR: 3, xPad: 6, yPad: 4, xType: 'logarithmic', yType: 'logarithmic', xMin: 0.132, xMax: 26.2, yMin: 0.129, yMax: 1.387, xT: LOGX, yT: { v: ampTicksB, l: ampLabelsB, minor: [] }, xTitle: 'Frequency (Hz)', yTitle: 'Relative amp',
    letter: { ch: 'P', italic: true, size: 88, x: 228, y: 848 },
    datasets: spectrum(pB_freq, [[pB_green, C.cyan], [pB_yellow, C.yellow], [pB_orange, C.orange], [pB_red, C.red]], pB_dfreq, [[pB_dYellow, C.green], [pB_dOrange, C.orange], [pB_dRed, C.red]], pB_dots) },
  { id: 'p8', plot: [342, 776, 567, 1053], padL: 36, padB: 37, padR: 3, xPad: 4, yPad: 5, xType: 'logarithmic', yType: 'logarithmic', xMin: 0.12, xMax: 40, yMin: 0.0193, yMax: 2.6, xT: LOGX, yT: EGFY, xTitle: 'Frequency (Hz)', yTitle: 'Relative amp',
    letter: { ch: 'P', italic: true, size: 137, x: 345, y: 1043 },
    datasets: egf(egfPB_freq, egfPB_lines, egfPB_colors) },
  { id: 'p9', plot: [598, 776, 816, 1053], padL: 30, padB: 37, padR: 1, xPad: 4, yPad: 6, xType: 'linear', yType: 'linear', xMin: 2.31, xMax: 6.78, yMin: 0.38, yMax: 3.7, xT: SECX, yT: STFY, xTitle: 'Seconds',
    letter: { ch: 'P', italic: true, size: 70, x: 774, y: 831 },
    stf: { t: 2.55, counts: stfPB_counts, bold: 3 },
    datasets: stf(stfPB_t, stfPB_v) },
  { id: 'p10', plot: [65, 1135, 290, 1412], padL: 44, padB: 39, padR: 3, xPad: 5, yPad: 4, xType: 'logarithmic', yType: 'logarithmic', xMin: 0.109, xMax: 15.9, yMin: 0.154, yMax: 1.245, xT: LOGX, yT: AMPY, xTitle: 'Frequency (Hz)', yTitle: 'Relative amp',
    letter: { ch: 'S', italic: false, size: 88, x: 234, y: 1203 },
    datasets: spectrum(sB_freq, [[sB_green, C.green], [sB_yellow, C.yellow], [sB_orange, C.orange], [sB_red, C.red]], sB_dfreq, [[sB_dYellow, C.green], [sB_dOrange, C.orange], [sB_dRed, C.red]], sB_dots) },
  { id: 'p11', plot: [334, 1135, 559, 1413], padL: 31, padB: 38, padR: 3, xPad: 5, yPad: 5, xType: 'logarithmic', yType: 'logarithmic', xMin: 0.135, xMax: 12.7, yMin: 0.083, yMax: 2.2, xT: LOGX, yT: EGFY, xTitle: 'Frequency (Hz)', yTitle: 'Relative amp',
    letter: { ch: 'S', italic: false, size: 142, x: 349, y: 1398 },
    datasets: egf(egfSB_freq, egfSB_lines, egfSB_colors) },
  { id: 'p12', plot: [598, 1134, 816, 1412], padL: 30, padB: 39, padR: 1, xPad: 5, yPad: 6, xType: 'linear', yType: 'linear', xMin: 2.31, xMax: 6.78, yMin: 0.44, yMax: 3.83, xT: SECX, yT: STFY, xTitle: 'Seconds',
    letter: { ch: 'S', italic: false, size: 72, x: 774, y: 1190 },
    stf: { t: 2.55, counts: stfSB_counts, bold: 3 },
    datasets: stf(stfSB_t, stfSB_v) },
];

function axis(p: Panel, k: 'x' | 'y') {
  const isX = k === 'x';
  const tk = isX ? p.xT : p.yT;
  const title = isX ? p.xTitle : p.yTitle;
  return {
    type: isX ? p.xType : p.yType,
    position: isX ? 'bottom' : 'left',
    min: isX ? p.xMin : p.yMin,
    max: isX ? p.xMax : p.yMax,
    afterBuildTicks: (s: any) => { s.ticks = tk.v.map((v: number) => ({ value: v })); },
    afterFit: (s: any) => { if (isX) s.height = p.padB; else s.width = p.padL; },
    ticks: { autoSkip: false, maxRotation: 0, minRotation: 0, padding: isX ? p.xPad : p.yPad, color: INK, font: { family: SERIF, size: 15 }, callback: (_v: any, i: number) => tk.l[i] },
    grid: { display: false, drawTicks: false, drawOnChartArea: false },
    border: { display: false },
    title: { display: !!title, text: title || '', color: INK, font: { family: SERIF, size: 15 }, padding: 0 },
  };
}

function makeFrame(p: Panel) {
  const cl = p.plot[0] - p.padL;
  const ct = p.plot[1] - PADT;
  return {
    id: 'frame',
    beforeDatasetsDraw(chart: any) {
      const { ctx, chartArea: a } = chart;
      const L = p.letter;
      ctx.save();
      ctx.beginPath();
      ctx.rect(a.left, a.top, a.right - a.left, a.bottom - a.top);
      ctx.clip();
      ctx.fillStyle = WATER;
      ctx.font = (L.italic ? 'italic bold ' : '') + L.size + 'px ' + SERIF;
      ctx.textAlign = 'left';
      ctx.textBaseline = 'alphabetic';
      ctx.fillText(L.ch, L.x - cl, L.y - ct);
      ctx.restore();
    },
    afterDatasetsDraw(chart: any) {
      const { ctx, chartArea: a, scales } = chart;
      const sx = scales.x, sy = scales.y;
      ctx.save();
      ctx.strokeStyle = BOX;
      ctx.lineWidth = 1;
      ctx.beginPath();
      const tx = (v: number, len: number) => {
        if (v <= sx.min || v >= sx.max) return;
        const px = Math.round(sx.getPixelForValue(v)) + 0.5;
        ctx.moveTo(px, a.bottom); ctx.lineTo(px, a.bottom - len);
        ctx.moveTo(px, a.top); ctx.lineTo(px, a.top + len);
      };
      const ty = (v: number, len: number) => {
        if (v <= sy.min || v >= sy.max) return;
        const py = Math.round(sy.getPixelForValue(v)) + 0.5;
        ctx.moveTo(a.left, py); ctx.lineTo(a.left + len, py);
        ctx.moveTo(a.right, py); ctx.lineTo(a.right - len, py);
      };
      p.xT.v.forEach((v: number) => tx(v, 5));
      p.xT.minor.forEach((v: number) => tx(v, 3));
      p.yT.v.forEach((v: number) => ty(v, 5));
      p.yT.minor.forEach((v: number) => ty(v, 3));
      ctx.stroke();
      ctx.lineWidth = 1.3;
      ctx.strokeRect(Math.round(a.left) + 0.5, Math.round(a.top) + 0.5, Math.round(a.right - a.left) - 1, Math.round(a.bottom - a.top) - 1);
      if (p.stf) {
        ctx.fillStyle = '#3a3a3a';
        ctx.textAlign = 'left';
        ctx.textBaseline = 'alphabetic';
        stfOffsets.forEach((o, i) => {
          ctx.font = (i === p.stf.bold ? 'bold ' : '') + '13px ' + SERIF;
          ctx.fillText(p.stf.counts[i] + ' ratios', sx.getPixelForValue(p.stf.t), sy.getPixelForValue(o) - 4);
        });
      }
      ctx.restore();
    },
  };
}

function PanelChart({ p }: { p: Panel }) {
  const ref = useRef<HTMLCanvasElement>(null);
  const [l, t, r, b] = p.plot;
  const w = r - l + p.padL + p.padR;
  const h = b - t + PADT + p.padB;
  useEffect(() => {
    const chart = new Chart(ref.current as HTMLCanvasElement, {
      type: 'line',
      data: { datasets: p.datasets },
      options: {
        animation: false,
        responsive: false,
        devicePixelRatio: 1,
        events: [],
        layout: { autoPadding: false, padding: { left: 0, top: PADT, right: p.padR, bottom: 0 } },
        plugins: { legend: { display: false }, tooltip: { enabled: false } },
        elements: { point: { radius: 0 }, line: { tension: 0 } },
        scales: { x: axis(p, 'x'), y: axis(p, 'y') },
      } as any,
      plugins: [makeFrame(p)],
    });
    return () => chart.destroy();
  }, [p]);
  return <canvas ref={ref} width={w} height={h} style={{ position: 'absolute', left: l - p.padL, top: t - PADT, width: w, height: h }} />;
}

const Title = ({ cx, cy, children }: any) => (
  <div style={{ position: 'absolute', left: cx - 160, width: 320, top: cy - 12, height: 24, lineHeight: '24px', textAlign: 'center', font: `bold 18px ${SERIF}`, color: '#1e1e1e', whiteSpace: 'nowrap' }}>{children}</div>
);
const Wave = ({ w, id, mw }: any) => (
  <span><i>{w}</i>-waves: {id} <i>M</i><span style={{ fontSize: 13, position: 'relative', top: 4 }}>W</span> {mw}</span>
);
const Notes = ({ x, ys, lines }: any) => (
  <>
    {lines.map((s: string, i: number) => (
      <div key={i} style={{ position: 'absolute', left: x, top: ys[i] - 8, lineHeight: '16px', font: `${i === 3 ? 'bold ' : ''}13.3px ${SERIF}`, color: '#3a3a3a', whiteSpace: 'nowrap' }}>{s}</div>
    ))}
  </>
);

export default function App() {
  return (
    <div style={{ position: 'absolute', left: 0, top: 0, width: 817, height: 1450, background: '#fff', overflow: 'hidden' }}>
      {PANELS.map((p) => <PanelChart key={p.id} p={p} />)}
      <div style={{ position: 'absolute', left: 8, top: 4, font: `28px ${SANS}`, lineHeight: '32px', color: '#111' }}>(a)</div>
      <div style={{ position: 'absolute', left: 8, top: 735, font: `28px ${SANS}`, lineHeight: '32px', color: '#111' }}>(b)</div>
      <Title cx={177} cy={29}><Wave w="P" id="593685" mw="3.65" /></Title>
      <Title cx={447} cy={29}>#EGF: 20 #STA: 14</Title>
      <Title cx={706} cy={29}>Source time functions</Title>
      <Title cx={173} cy={383}><Wave w="S" id="593685" mw="3.65" /></Title>
      <Title cx={441} cy={383}>#EGF: 23 #STA: 7</Title>
      <Title cx={705} cy={383}>Source time functions</Title>
      <Title cx={177} cy={760}><Wave w="P" id="593686" mw="3.85" /></Title>
      <Title cx={448} cy={760}>#EGF: 18 #STA: 13</Title>
      <Title cx={708} cy={760}>Source time functions</Title>
      <Title cx={170} cy={1122}><Wave w="S" id="593686" mw="3.85" /></Title>
      <Title cx={440} cy={1122}>#EGF: 19 #STA: 7</Title>
      <Title cx={706} cy={1122}>Source time functions</Title>
      <Notes x={81} ys={[203, 223, 243, 264, 285, 307]} lines={pA_notes} />
      <Notes x={77} ys={[564, 587, 607, 627, 645, 664]} lines={sA_notes} />
      <Notes x={80} ys={[928, 950, 973, 995, 1016, 1038]} lines={pB_notes} />
      <Notes x={72} ys={[1295, 1316, 1337, 1357, 1377, 1396]} lines={sB_notes} />
    </div>
  );
}
